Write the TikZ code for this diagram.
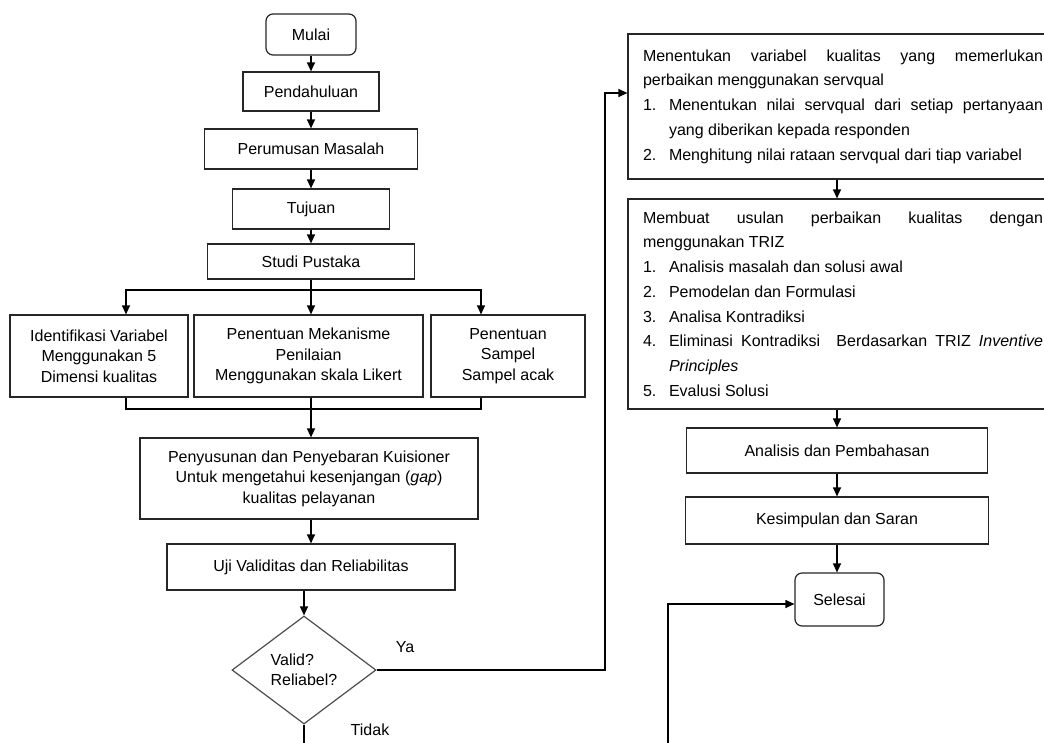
\documentclass[tikz,border=0pt]{standalone}
\usepackage{fontspec}
\setmainfont{Liberation Sans}
\usetikzlibrary{arrows.meta, positioning, shapes.geometric}

\newcommand{\butir}[2]{\par\noindent\hangindent=26pt\hangafter=1\makebox[26pt][l]{#1}#2\par}

\begin{document}
\begin{tikzpicture}[x=1pt, y=-1pt, font=\fontsize{16}{20.5}\selectfont, line width=1.2pt,
    >={Triangle[length=9pt,width=8pt]},
    blk/.style={draw=black!85, inner sep=0pt, align=center},
    term/.style={blk, rounded corners=7pt},
    dec/.style={draw=black!70, diamond, aspect=1.33, inner sep=0pt, align=left,
                minimum width=144pt, minimum height=108pt},
    lst/.style={draw=black!85, inner sep=0pt, text width=418pt, align=justify,
                font=\fontsize{16}{24.7}\selectfont}]
    \useasboundingbox (0,0) rectangle (1044,742);
    \fill[white] (0,0) rectangle (1044,742);
    \clip (0,0) rectangle (1044,742);

    % kolom kiri
    \node[term, minimum width=90pt,  minimum height=41pt] (mulai) at (311,34.5) {Mulai};
    \node[blk,  minimum width=136pt, minimum height=39pt] (pend)  at (311,91.5) {Pendahuluan};
    \node[blk,  minimum width=213pt, minimum height=40pt] (rumus) at (311,149)  {Perumusan Masalah};
    \node[blk,  minimum width=157pt, minimum height=40pt] (tuj)   at (311,209)  {Tujuan};
    \node[blk,  minimum width=207pt, minimum height=35pt] (studi) at (311,261.5) {Studi Pustaka};
    \node[blk,  minimum width=178pt, minimum height=82pt] (var)   at (99,356)   {Identifikasi Variabel\\Menggunakan 5\\Dimensi kualitas};
    \node[blk,  minimum width=229pt, minimum height=82pt] (nilai) at (308.5,356) {Penentuan Mekanisme\\Penilaian\\Menggunakan skala Likert};
    \node[blk,  minimum width=154pt, minimum height=82pt] (smp)   at (508,356)  {Penentuan\\Sampel\\Sampel acak};
    \node[blk,  minimum width=338pt, minimum height=81pt] (kuis)  at (309,478.5) {Penyusunan dan Penyebaran Kuisioner\\Untuk mengetahui kesenjangan (\textit{gap})\\kualitas pelayanan};
    \node[blk,  minimum width=288pt, minimum height=46pt] (uji)   at (311,567)  {Uji Validitas dan Reliabilitas};
    \node[dec] (cek) at (304,670) {Valid?\\Reliabel?};
    \node (ya)  at (405,647) {Ya};
    \node (tdk) at (370,730) {Tidak};

    % kolom kanan
    \node[lst, minimum height=145pt] (servq) at (837,106.5) {\leftskip=15pt\rightskip=3pt\noindent
        Menentukan variabel kualitas yang memerlukan\linebreak perbaikan menggunakan servqual\par
        \butir{1.}{Menentukan nilai servqual dari setiap pertanyaan\linebreak yang diberikan kepada responden}
        \butir{2.}{Menghitung nilai rataan servqual dari tiap variabel}};
    \node[lst, minimum height=210pt] (triz) at (837,304) {\leftskip=15pt\rightskip=3pt\noindent
        Membuat usulan perbaikan kualitas dengan\linebreak menggunakan TRIZ\par
        \butir{1.}{Analisis masalah dan solusi awal}
        \butir{2.}{Pemodelan dan Formulasi}
        \butir{3.}{Analisa Kontradiksi}
        \butir{4.}{Eliminasi Kontradiksi\ \ Berdasarkan TRIZ \textit{Inventive}\linebreak\textit{Principles}}
        \butir{5.}{Evalusi Solusi}};
    \node[blk,  minimum width=301pt, minimum height=45pt] (bahas) at (837,450.5) {Analisis dan Pembahasan};
    \node[blk,  minimum width=303pt, minimum height=47pt] (simp)  at (837,520.5) {Kesimpulan dan Saran};
    \node[term, minimum width=89pt,  minimum height=53pt] (akhir) at (839.5,599.5) {Selesai};

    \coordinate (split) at (311,290);
    \coordinate (join)  at (311,409);
    \coordinate (naik)  at (605,93);
    \coordinate (bawah) at (668,790);

    \draw[->] (mulai) -- (pend);
    \draw[->] (pend) -- (rumus);
    \draw[->] (rumus) -- (tuj);
    \draw[->] (tuj) -- (studi);
    \draw (studi) -- (split);
    \draw[->] (split) -| ([xshift=27pt]var.north);
    \draw[->] (split) -| ([xshift=-27pt]smp.north);
    \draw[->] (split) -- (split |- nilai.north);
    \draw ([xshift=27pt]var.south) |- (join);
    \draw ([xshift=-27pt]smp.south) |- (join);
    \draw (join |- nilai.south) -- (join);
    \draw[->] (join) -- (join |- kuis.north);
    \draw[->] (uji.north |- kuis.south) -- (uji.north);
    \draw[->] (cek.north |- uji.south) -- (cek.north);
    \draw[->] (cek.east) -| (naik) -- (naik -| servq.west);
    \draw[->] (cek.south) |- (bawah) |- ([yshift=-4.5pt]akhir.west);

    \draw[->] (servq) -- (triz);
    \draw[->] (triz) -- (bahas);
    \draw[->] (bahas) -- (simp);
    \draw[->] (simp.south) -- (simp.south |- akhir.north);
\end{tikzpicture}
\end{document}
